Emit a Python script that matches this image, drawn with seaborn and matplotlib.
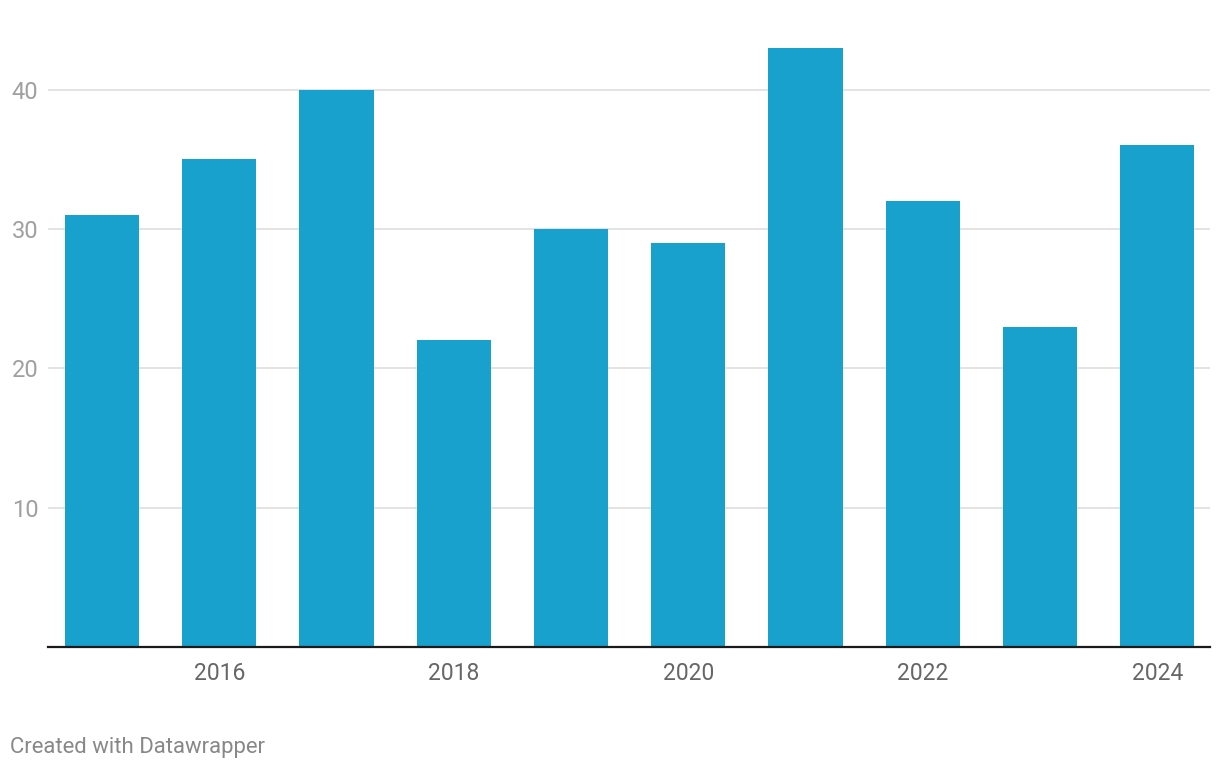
import matplotlib
matplotlib.use("Agg")
import matplotlib.pyplot as plt
import seaborn as sns
import pandas as pd

years = [2015, 2016, 2017, 2018, 2019, 2020, 2021, 2022, 2023, 2024]
values = [31, 35, 40, 22, 30, 29, 43, 32, 23, 36]
shown_year_labels = ["2016", "2018", "2020", "2022", "2024"]
y_ticks = [10, 20, 30, 40]

sns.set_theme(style="white")
plt.rcParams['font.family'] = ['Roboto', 'DejaVu Sans']

df = pd.DataFrame({"year": [str(y) for y in years], "value": values})

fig = plt.figure(figsize=(12.2, 7.7), dpi=100)
ax = fig.add_axes([48/1220, 1 - 647/770, (1210-48)/1220, (647-6)/770])

sns.barplot(data=df, x="year", y="value", color="#18a1cd", saturation=1,
            width=0.632, linewidth=0, edgecolor="none", ax=ax, zorder=3)

ax.set_xlim(-0.46, 9.45)
ax.set_ylim(0, 46)
ax.set_yticks(y_ticks)
ax.set_yticklabels([str(t) for t in y_ticks])
ax.grid(axis="y", color="#e3e3e3", linewidth=1.4, zorder=0)
ax.set_axisbelow(True)

labels = [t if t in shown_year_labels else "" for t in df["year"]]
ax.set_xticks(range(len(years)))
ax.set_xticklabels(labels)

ax.tick_params(axis="x", length=0, pad=11, labelsize=16.5, labelcolor="#666666")
ax.tick_params(axis="y", length=0, pad=7, labelsize=17, labelcolor="#a0a0a0")
ax.set_xlabel("")
ax.set_ylabel("")

for s in ["top", "right", "left"]:
    ax.spines[s].set_visible(False)
ax.spines["bottom"].set_color("#1a1a1a")
ax.spines["bottom"].set_linewidth(1.6)
ax.spines["bottom"].set_zorder(5)

fig.text(10/1220, 1 - 747/770, "Created with Datawrapper", fontsize=15.9,
         color="#888888", ha="left", va="center")

fig.savefig("out.png", dpi=100, facecolor="white")
